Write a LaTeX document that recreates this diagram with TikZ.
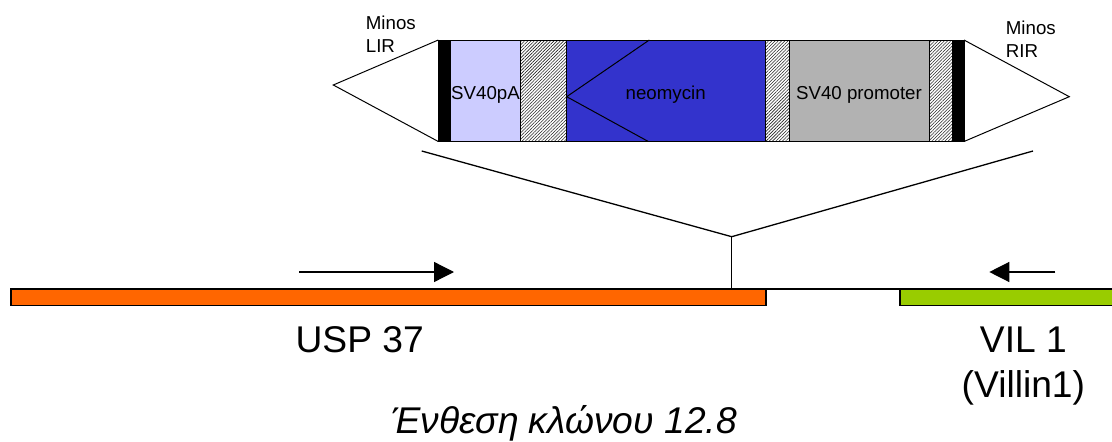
\documentclass[tikz,border=0pt]{standalone}
\usepackage{fontspec}
\setmainfont{Liberation Sans}
\usetikzlibrary{patterns.meta,arrows.meta}
\begin{document}
\begin{tikzpicture}[x=1pt,y=-1pt,
  seg/.style={draw=black,line width=1pt,inner sep=0pt,outer sep=0pt,anchor=north west,minimum height=101.5pt},
  hatch/.style={seg,pattern={Lines[angle=45,distance=2.3pt,line width=0.55pt]},pattern color=black!85},
  gbar/.style={draw=black,line width=1.7pt,inner sep=0pt,outer sep=0pt,anchor=north west,minimum height=16.5pt},
  thin/.style={draw=black,line width=1.3pt},
  arr/.style={thin,-{Triangle[length=20pt,width=20pt]}},
  smalltxt/.style={inner sep=0pt,font=\fontsize{18.7}{23}\selectfont},
  bigtxt/.style={inner sep=0pt,font=\fontsize{37.2}{44.6}\selectfont},
]
\useasboundingbox (0,0) rectangle (1112,442);
\fill[white] (0,0) rectangle (1112,442);
\clip (0,0) rectangle (1112,442);

% insert cassette
\node[seg,fill=black,minimum width=12.4pt] (lir) at (438.3,40) {};
\node[seg,fill={rgb,255:red,204;green,204;blue,255},minimum width=69.3pt] (pa) at (450.7,40) {};
\node[hatch,minimum width=46.7pt] (h1) at (520,40) {};
\node[seg,fill={rgb,255:red,51;green,51;blue,204},minimum width=199pt] (neo) at (566.7,40) {};
\node[hatch,minimum width=23.3pt] (h2) at (765.7,40) {};
\node[seg,fill={rgb,255:red,178;green,178;blue,178},minimum width=140.3pt] (prom) at (789,40) {};
\node[hatch,minimum width=23pt] (h3) at (929.3,40) {};
\node[seg,fill=black,minimum width=11.7pt] (rir) at (952.3,40) {};

% terminal triangles
\coordinate (ltip) at (333.3,85);
\coordinate (rtip) at (1069.3,96.7);
\draw[line width=1pt] (lir.north west) -- (ltip) -- (lir.south west);
\draw[line width=1pt] (rir.north east) -- (rtip) -- (rir.south east);

% neomycin chevron
\coordinate (chev) at (566.7,96.7);
\coordinate (chevt) at (649.3,40);
\coordinate (chevb) at (648.3,141.5);
\draw[line width=1pt] (chevt) -- (chev) -- (chevb);

% cassette labels
\node[smalltxt,anchor=base] (tpa) at (485.5,99.3) {SV40pA};
\node[smalltxt,anchor=base] (tneo) at (665.7,99.3) {neomycin};
\node[smalltxt,anchor=base] (tprom) at (859,99.3) {SV40 promoter};
\node[smalltxt,anchor=base west,align=left] (tlir) at (365.7,52.3) {Minos\\LIR};
\node[smalltxt,anchor=base west,align=left] (trir) at (1005.7,57.3) {Minos\\RIR};

% genomic bars
\node[gbar,fill={rgb,255:red,255;green,102;blue,0},minimum width=755pt] (usp) at (10.8,289) {};
\node[gbar,fill={rgb,255:red,153;green,204;blue,0},minimum width=230pt] (vil) at (900,289) {};
\draw[thin] (usp.north east) -- (vil.north west);

% insertion site
\coordinate (ins) at (731.7,236.7);
\coordinate (insL) at (421.7,151);
\coordinate (insR) at (1033,151);
\coordinate (insB) at (731.7,287.5);
\draw[thin] (insL) -- (ins) -- (insR);
\draw[thin] (ins) -- (insB);

% direction arrows
\coordinate (a1s) at (299.3,272);
\coordinate (a1e) at (454,272);
\coordinate (a2s) at (1055.3,272);
\coordinate (a2e) at (989.3,272);
\draw[arr] (a1s) -- (a1e);
\draw[arr] (a2s) -- (a2e);

% gene labels
\node[bigtxt,anchor=base] (tusp) at (359.7,352.7) {USP 37};
\node[bigtxt,anchor=base,align=center] (tvil) at (1023.4,397.3) {VIL 1\\(Villin1)};
\node[bigtxt,anchor=base,font=\fontsize{37.2}{44.6}\selectfont\itshape] (title) at (564,433) {Ένθεση κλώνου 12.8};
\end{tikzpicture}
\end{document}
